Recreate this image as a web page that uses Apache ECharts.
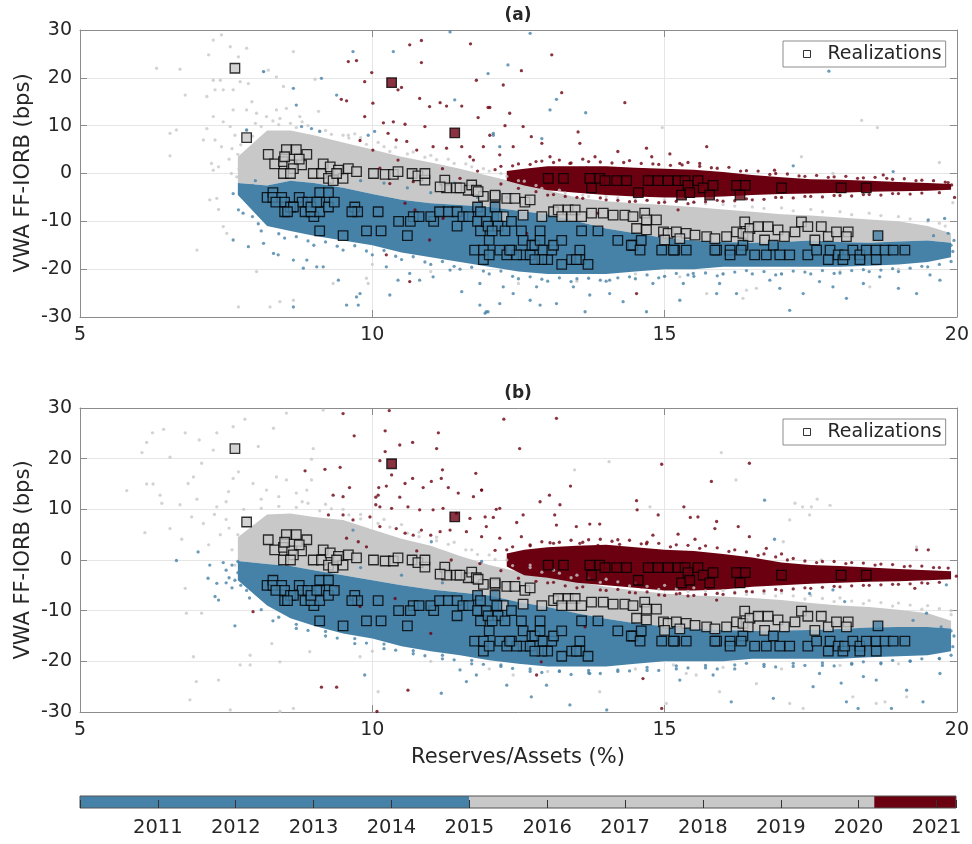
<!DOCTYPE html>
<html><head><meta charset="utf-8">
<script src="https://cdn.jsdelivr.net/npm/echarts@6/dist/echarts.min.js"></script>
<style>html,body{margin:0;padding:0;background:#fff}#c{width:972px;height:844px}</style>
</head><body><div id="c"></div><script>
// ---------- data ----------
var xTicks = [5, 10, 15, 20];
var yTicks = [-30, -20, -10, 0, 10, 20, 30];
var years = [2011, 2012, 2013, 2014, 2015, 2016, 2017, 2018, 2019, 2020, 2021];
var cbStart = [2010, 2015, 2020.2];
var cbEnd = [2015, 2020.2, 2021.25];

// dense-core outlines of the clouds
var bandX = [7.7,8.2,8.6,9,9.5,10,10.5,11,11.5,12,12.5,13,13.5,14,14.5,15,15.5,16,16.5,17,17.5,18,18.5,19,19.5,19.9];
var grayUpA = [3.5,9,9,8,6.5,5,3.5,2.3,1,-0.5,-2,-3.5,-5,-5.8,-6.2,-6.6,-7,-7.5,-8,-8.5,-8.8,-9.2,-9.6,-10,-11,-12.5];
var blueUpA = [-2,-2.5,-1.5,-2,-3,-4.3,-5.5,-6.2,-6.6,-7,-7.8,-8.5,-10,-11.5,-12.5,-13.5,-14,-14.3,-14.5,-14.3,-14,-14.3,-14.5,-14.2,-14,-14.5];
var blueLoA = [-4.5,-11,-12,-13,-14,-15,-16.5,-17.5,-18.5,-19.5,-20.5,-21,-21,-21,-20.5,-20,-20,-19.5,-19.5,-19.5,-19.5,-19.5,-19.3,-19,-18.5,-17.5];
var grayUpB = [4.5,9,9.2,8.5,7.9,6,4.2,2.8,0.8,-1,-2.3,-3.3,-4.3,-5.3,-6,-6.6,-7,-7.2,-7.5,-7.9,-8.5,-9,-9.3,-9.8,-10.5,-12];
var blueUpB = [-0.2,-0.8,-1.2,-2,-3,-4,-5,-5.8,-6.4,-7,-8.3,-9.3,-10.5,-11.6,-12.5,-13.1,-13.5,-13.8,-14,-13.9,-13.8,-13.6,-13.3,-13.2,-13.2,-13.5];
var blueLoB = [-4,-9,-11.5,-13,-14.5,-15.5,-17,-18,-18.8,-19.8,-20.5,-21,-21,-21,-20.5,-20,-20,-20,-19.5,-19.5,-19.5,-19.5,-19.2,-19,-18.8,-18];
var redX = [12.3,12.6,13,13.5,14,14.5,15,15.5,16,16.5,17,17.5,18,18.5,19,19.5,19.9];
var redUpA = [0.5,1,1.5,1.5,1.5,1.2,1,0.8,0.3,-0.3,-0.8,-1.2,-1.3,-1.5,-1.8,-2,-2.2];
var redLoA = [-1.5,-2.5,-3.5,-4,-4.5,-4.8,-5,-5,-4.8,-4.5,-4.3,-4.2,-4,-3.8,-3.7,-3.6,-3.4];
var redUpB = [1.3,2,2.5,2.8,3,2.5,2,1.8,1.2,0.5,-0.5,-1,-1.2,-1.5,-1.8,-2,-2.2];
var redLoB = [-1.3,-3,-3.5,-4.5,-5,-5.5,-6,-6,-5.8,-5.3,-5,-4.7,-4.5,-4.3,-4.2,-4,-3.8];

// realizations (same in both panels)
var sqGray = [[7.65,22],[7.85,7.5],[8.22,4],[8.53,5],[8.7,5],[8.88,4],[8.33,2],[8.48,2.5],[8.62,1.8],[8.79,1.8],[8.48,0],[8.65,1],[8.99,0],[9.13,0],[9.16,2],[9.28,1.4],[9.42,0.7],[9.59,1],[9.73,0.4],[9.25,-1],[9.33,-1.5],[9.5,-1],[9.39,0],[10.02,0],[10.22,-0.2],[10.36,-0.2],[10.44,0.4],[10.68,0],[10.78,-0.5],[8.5,3.5],[8.75,3],[8.6,0],
[10.9,-1.4],[10.9,0],[11.24,-1.4],[11.27,-3],[11.44,-3],[11.64,-3.5],[11.7,-2.4],[11.78,-3.5],[11.9,-4.8],[12.1,-4.8],[12.3,-5.2],[12.44,-5.2],[12.61,-6],[12.7,-5.5],[12.58,-8.7],[12.24,-9],[12.9,-9],[13.1,-8],[13.18,-7.6],[13.35,-7.6],[13.47,-7.6],[13.24,-9],[13.41,-9],[13.58,-9],[11.16,-2.8],[11.5,-3],[11.81,-3.8],[12.1,-4.5],
[13.75,-8.3],[13.95,-8.3],[14.12,-8.7],[14.32,-8.7],[14.46,-9],[14.66,-8.3],[14.69,-9.7],[14.86,-9.7],[14.52,-11.5],[14.69,-11.8],[14.98,-12.2],[15.06,-12.5],[15.2,-12.2],[15.37,-12.5],[15.52,-12.9],[15.72,-13.2],[15.86,-13.6],[16.06,-13.2],[16.23,-12.2],[16.37,-10.1],[16.34,-12.5],[15,-13.9],[15.26,-13.6],
[16.46,-11.5],[16.43,-13.2],[16.6,-11.1],[16.71,-13.9],[16.77,-11.1],[16.94,-11.8],[17.05,-13.2],[17.23,-12.2],[17.34,-10.1],[17.45,-11.1],[17.57,-13.9],[17.68,-11.1],[17.8,-13.2],[17.94,-12.2],[18.14,-12.2],[18.11,-13.2]];
var sqBlue = [[8.2,-5],[8.3,-4],[8.3,-5],[8.45,-5],[8.35,-6],[8.5,-6],[8.5,-8],[8.6,-7],[8.75,-5],[8.8,-6],[8.9,-6],[8.85,-8],[9,-9],[8.95,-8],[9.1,-4],[9.25,-4],[9.1,-6],[9.1,-8],[9.25,-7],[9.35,-6],[9.1,-12],[9.5,-13],[9.7,-7],[9.75,-8],[9.65,-8],[9.9,-12],[10.1,-8],[10.15,-12],[10.45,-10],[10.6,-13],[10.7,-9],[10.65,-10],[8.65,-7],[8.95,-7],[9.05,-6],[8.55,-8],
[10.8,-9],[11.05,-10],[11,-9],[11.15,-8],[11.3,-8],[11.45,-8],[11.45,-11],[11.55,-9],[11.65,-9],[11.8,-7],[11.85,-8],[11.8,-10],[11.85,-12],[11.95,-10],[11.98,-11],[12,-14],[12.1,-7],[12.13,-9],[12.15,-11],[12.05,-12],[12.27,-12],[12.38,-10],[11.75,-16],[11.9,-16],[11.9,-18],[12,-17],[12.18,-16],[12.3,-17],[12.38,-16],[12.55,-12],[12.58,-14],[12.58,-17],[12.7,-17],[12.73,-15],[12.78,-15],[12.87,-12],[12.87,-14],[12.92,-16],[13,-18],[13.07,-16],[13.1,-15],[12.9,-18],[12.78,-18],[13.24,-14],[13.24,-19],[13.41,-18],[13.55,-16],[13.55,-18],[13.49,-18],[13.69,-19],[13.58,-12],[13.86,-12],[12.47,-17],[12.35,-16],
[14.2,-14],[14.46,-15],[14.6,-14],[14.95,-16],[15.17,-16],[15.37,-16],[15.89,-16],[16.12,-16],[16.12,-17],[16.34,-15],[16.31,-16],[16.54,-17],[16.74,-17],[16.86,-15],[16.97,-17],[17.14,-17],[17.45,-17],[17.6,-16],[17.8,-18],[17.83,-16],[17.97,-17],[18.05,-18],[18.08,-17],[18.22,-16],[18.34,-17],[18.34,-18],[18.45,-16],[18.62,-16],[18.62,-18],[18.65,-13],[18.77,-16],[18.91,-16],[19.11,-16],[14.43,-15],[14.58,-16],[15.15,-16],[15.86,-16]];
var sqRed = [[10.33,19],[11.41,8.5],[13.01,-1],[13.27,-1],[13.72,-1],[13.75,-3],[13.89,-1],[13.98,-1.5],[14.18,-1.5],[14.35,-1.5],[14.55,-4],[14.72,-1.5],[14.89,-1.5],[15.06,-1.5],[15.23,-1.5],[15.35,-1.5],[15.4,-2.5],[15.29,-4.5],[15.43,-4],[15.57,-1.5],[15.66,-3],[15.83,-2.5],[15.77,-4.5],[16.23,-2.5],[16.38,-2.5],[16.29,-4.5],[17,-3],[18.02,-3],[18.45,-3]];

// scattered points outside the dense cores
var grayDotsA = [[6.31,22],[6.71,21.8],[6.8,16.4],[6.54,8.4],[6.65,9.1],[6.54,3.7],[7,-16],[7.2,24.8],[7.28,27.9],[7.42,29],[7.57,26.5],[7.71,24.4],[7.85,26.2],[7.17,16.1],[7.28,19.5],[7.4,19.5],[7.31,17.5],[7.45,17.5],[7.62,17.5],[7.74,19.2],[7.88,18.8],[8.14,21.3],[8.22,21.6],[8.36,20.2],[8.65,25.5],[8.48,18.2],[7.94,15],[7.62,13.3],[7.85,13.3],[8.02,12.6],[8.19,11.9],[8.36,13.3],[8.53,13.6],[8.42,11.5],[7.28,11.9],[7.45,10.8],[7.57,9.8],[7.17,9.4],[7.11,7],[7.31,7],[7.42,5.6],[7.25,2.1],[7.37,1.4],[7.28,0.7],[7.59,0],[7.68,-0.7],[7.22,-5.5],[7.34,-5.2],[7.37,-7.5],[7.45,-11.1],[7.51,-12.5],[7.71,-27.9],[8.25,-27.9],[8.42,-26.8],[8.02,-20.5],[8.65,-26.5],[8.76,11.9],[9.08,13],[9.59,8],[9.33,-23],[9.9,-21.9],[9.93,-23],[9.02,19.7],
[7.7,4],[7.75,6],[7.8,2],[7.65,8],[7.85,9],[7.9,-1],[7.72,1],[7.95,7.8],[7.98,5.5],[7.6,5.2],[7.55,3],[14.96,9.6],[18.37,11.1],[18.64,9.6],[17.34,3.5],[19.7,2.3],[17.88,0],[19.93,-6.1],[16.4,-24.4],[16.57,-24],[16.34,-26.1],[18.51,-23.7],[15.26,-21.6],[15.72,-25.1],
[8,10.5],[8.3,11],[8.6,10.5],[8.9,10],[9.2,9],[9.5,8],[9.8,7.5],[10.1,6.5],[10.4,5.5],[10.7,4.5],[11,3.8],[11.3,3],[11.6,2],[11.9,1],[12.2,0],[12.5,-1.5],[12.8,-2.5],[13.2,-3.5],[13.6,-4.5],[14,-4.8],[14.5,-5.2],[15,-5.5],[15.5,-6],[16,-6.5],[16.5,-7],[17,-7.2],[17.5,-7.5],[18,-8],[18.5,-8.3],[19,-9],[19.5,-10],[19.8,-11],
[14.5,-21],[15,-21.5],[16,-21],[17,-21],[18,-20.5],[19,-20],[13.5,-22.5],[12.5,-23],[11,-20.5],[10,-19]];
var edgeGrayA = [[8.1,9.8],[8.4,10.2],[8.7,9.6],[8.8,10.8],[9.1,8.9],[9.3,8.2],[9.6,7.4],[9.7,8.3],[9.9,6.1],[10.2,5.6],[10.3,4.6],[10.6,4.1],[10.9,3.4],[11.1,2.9],[11.4,2.1],[11.7,1.4],[12,0.5],[12.3,-0.6],[12.6,-1.6],[12.9,-3.1],[13.3,-4.1],[13.7,-4.8],[14.2,-5.1],[14.7,-5.6],[15.2,-5.8],[15.7,-6.3],[16.2,-6.8],[16.7,-7.3],[17.2,-7.8],[17.7,-8],[18.2,-8.6],[18.7,-8.8],[19.2,-9.5],[19.7,-10.4]];
var blueDotsA = [[9.67,25.5],[10.36,25.5],[9.13,19.9],[8.65,17.8],[8.7,14.3],[9.39,16.4],[8.14,21.3],[7.85,9.1],[8.79,9.8],[8.96,9.4],[9.1,8.8],[9.93,8],[10.04,8.8],[7.62,-4.2],[7.71,-7.6],[7.79,-8.3],[7.62,-13.9],[7.88,-15.3],[8.14,-14.6],[8.31,-16.7],[8.39,-17],[8.65,-18.1],[8.82,-19.8],[8.88,-18.1],[9.05,-19.5],[9.16,-19.5],[9.42,-22.3],[9.56,-27.5],[9.73,-25.8],[9.79,-25.1],[9.76,-27.5],[10.3,-25.4],[8.65,-27.9],[10.24,-19.5],[10.44,-22.3],[10.64,-20.9],[10.81,-22.3],[11.04,-21.6],[11.33,-20.2],[11.53,-24.7],[11.84,-23],[11.93,-29.2],[11.98,-28.9],[11.84,-27.5],[11.33,29.6],[11.98,20.9],[11.41,15.4],[12.07,8],
[12.7,29.3],[12.32,22.7],[13.15,15.5],[13.04,13.3],[13.65,12.7],[12.9,7.3],[12.07,8.4],[12.18,5.6],[17.81,21.4],[17.2,1.6],[18.91,0.4],[19.51,-9.7],[19.79,-9.4],[19.85,-12.5],[19.71,-17.4],[19.93,-16.3],[19.54,-21.2],[19.71,-22.3],[19.31,-25.1],[19,-24],[18.11,-26.1],[17.88,-23.7],[17.65,-22.6],[17.37,-25.1],[17.14,-28.6],[16.8,-22.3],[16.23,-25.1],[15.94,-23],[15.49,-20.9],[15.32,-23],[15.26,-26.5],[14.69,-28.9],[14.29,-26.8],[14.06,-25.1],[13.72,-25.4],[13.64,-28.9],[13.15,-27.2],[12.87,-27.5],[12.7,-26.5],[12.41,-25.1],[12.18,-27.2],[11.95,-28.9],[12.24,-23.7],[12.81,-23.7],[13.44,-23.7],[14.06,-22.3],[14.8,-23],[15.89,-25.1],[16.97,-24],[18.4,-23],[18.68,-21.6],
[8.5,-13.5],[9,-15],[9.5,-16],[10,-17],[10.5,-18],[11,-19],[11.5,-20],[12,-21],[12.5,-22],[13,-22.5],[13.5,-22],[14,-22.5],[14.5,-22],[15,-21.5],[15.5,-21.5],[16,-21],[16.5,-21],[17,-21],[17.5,-21],[18,-20.8],[18.5,-20.5],[19,-20.5],[19.5,-19.5],
[10.2,-2],[10.6,-3],[11,-4],[11.4,-2],[11.8,-5],[12.3,-5],[9.4,0],[9.8,-1.5],[8,-1.5],[7.95,-2.5],[7.9,-6],[7.95,-9],[8.05,-10.5],[7.8,-5],[19.95,-14],[19.9,-15],[19.6,-13]];
var edgeBlueA = [[8.1,-12],[8.4,-12.6],[8.7,-13.2],[8.9,-14.1],[9.2,-14.3],[9.4,-15.2],[9.7,-15.1],[9.9,-16.2],[10.2,-16.1],[10.4,-17.3],[10.7,-17.4],[10.9,-18.5],[11.2,-18.4],[11.4,-19.4],[11.7,-19.6],[11.9,-20.4],[12.2,-20.4],[12.4,-21.5],[12.7,-21.6],[12.9,-22.1],[13.2,-21.8],[13.4,-22.6],[13.7,-21.9],[13.9,-22.3],[14.2,-21.8],[14.4,-21.6],[14.7,-21.2],[14.9,-21.8],[15.2,-20.9],[15.4,-21.2],[15.7,-20.8],[15.9,-21.4],[16.2,-20.6],[16.4,-20.3],[16.7,-20.5],[16.9,-21.2],[17.2,-20.4],[17.4,-20.6],[17.7,-20.3],[17.9,-20.9],[18.2,-20.3],[18.4,-20.1],[18.7,-20.2],[18.9,-19.9],[19.2,-19.8],[19.4,-19.4],[19.7,-19],[19.9,-18.4]];
var redDotsA = [[9.59,23.4],[9.73,23.6],[9.99,21.1],[9.87,19.2],[10.5,18],[10.44,17.5],[9.47,15.5],[9.56,15.2],[10.01,14.7],[9.87,11.9],[10.19,10.6],[10.36,10.8],[10.56,10.3],[9.79,6.9],[10.01,4.9],[10.27,8.4],[10.41,7],[10.59,6.7],[10.64,26.9],[10.84,27.8],[10.84,23.2],[10.81,15.7],[10.98,14],[11.16,14.8],[11.27,14.1],[11.53,14.1],[11.68,27.1],[11.78,19.5],[11.98,13.8],[11.81,11.7],[12.01,8],[10.9,9.8],[11.04,5.6],[11.27,5.3],[11.53,5.6],[11.67,3.5],[11.73,2.8],[11.9,5.6],[10.7,-1.7],[10.3,-2.1],[10.56,-6.2],[10.73,-7.6],[11.21,-9.4],[10.98,-13.9],[10.24,-17],[10.64,-22.6],[10.13,1.1],[10.44,2.8],[10.76,4.9],
[13.07,24.8],[12.55,21.5],[12.24,18.5],[13.24,16.9],[12.01,13.8],[12.35,12.6],[14.32,14.8],[12.27,10],[12.58,9.8],[12.72,7.7],[13.52,8.7],[13.55,6.3],[12.9,6.3],[12.18,3.9],[12.41,5.6],[13.04,3.5],[13.38,2.1],[13.81,3.5],[14.2,4.6],[14.69,5.3],[14.78,3.5],[15.09,4.1],[15.26,2.1],[15.72,5.6],[15.6,2.1],[16.88,0.7],[18.74,-0.3],[19.91,-2.4],[19.96,-5],[15.23,-7.6],[14.52,-25.1],[13.86,-8.3],[12.24,-16],[12.64,-12.5],[13.66,1.1],[14.12,0.7],
[12.2,1.5],[12.5,2],[12.8,2.5],[13.2,2.8],[13.7,2.5],[14.3,2.3],[14.8,2],[15.3,1.8],[15.8,1.2],[16.3,0.5],[16.8,-0.2],[17.3,-0.5],[17.8,-0.8],[18.3,-1],[18.8,-1],[19.3,-1.5],[19.8,-1.8],[13,-4.5],[13.5,-5],[14,-5.5],[14.5,-5.8],[15,-6],[15.5,-6],[16,-5.8],[16.5,-5.5],[17,-5],[17.5,-4.8],[18,-4.6],[18.5,-4.4],[19,-4.2],[11.5,-1],[11.8,0.5],[11.2,1]];
var edgeRedA = [[12.1,0.8],[12.4,1.6],[12.7,1.9],[12.9,2.6],[13.1,2.3],[13.4,2.2],[13.6,3],[13.9,2.4],[14.1,2.2],[14.4,2.7],[14.6,2.1],[14.9,1.9],[15.1,1.7],[15.4,2.3],[15.6,1.5],[15.9,1.1],[16.1,1.3],[16.4,0.6],[16.6,0.5],[16.9,0],[17.1,-0.1],[17.4,-0.6],[17.6,-0.4],[17.9,-0.7],[18.1,-0.6],[18.4,-0.9],[18.6,-0.8],[18.9,-1.2],[19.1,-1.1],[19.4,-1.4],[19.6,-1.5],[19.85,-1.9],
[12.2,-2.2],[12.5,-3.1],[12.8,-3.8],[13.1,-4.4],[13.3,-4.8],[13.6,-5.2],[13.9,-5.1],[14.2,-5.6],[14.4,-5.9],[14.7,-5.6],[14.9,-6.1],[15.2,-5.8],[15.4,-6.3],[15.7,-5.9],[15.9,-5.6],[16.2,-5.7],[16.4,-5.3],[16.7,-5.4],[16.9,-5],[17.2,-5.1],[17.4,-4.8],[17.7,-4.9],[17.9,-4.6],[18.2,-4.7],[18.4,-4.4],[18.7,-4.5],[18.9,-4.2],[19.2,-4.3],[19.4,-4.1],[19.7,-4]];
var grayDotsB = [[5.8,13.7],[6.06,21.2],[6.14,23.2],[6.24,25.1],[6.43,25.8],[6.54,20.3],[6.14,15],[6.25,15],[6.4,11.2],[6.54,6.2],[6.11,5.4],[6.37,12.8],[6.71,10.9],[6.74,4.1],[6.8,25.1],[7.04,23.7],[7.28,21.7],[6.94,16.4],[6.85,15.1],[7.08,19.1],[7.34,25.1],[7.62,26.3],[7.82,27.8],[8.05,22.4],[8.31,26],[8.53,29],[9.16,29.6],[6.91,8.5],[7.11,7.2],[7.34,10.5],[7.54,13.5],[7.62,16.1],[7.71,17.4],[7.96,15.1],[8.19,13.8],[8.36,16.4],[8.53,15.8],[8.7,13.2],[8.88,13.8],[8.96,15.8],[8.99,22],[8.96,19.9],[6.8,-5.6],[6.82,-10.5],[7.08,-10.5],[6.99,-24],[6.88,-27.6],[7.37,-23.7],[7.57,-29.6],[7.74,-20.7],[7.91,-20.7],[7.91,-18.8],[8.28,-16.5],[8.42,-20.1],[8.65,-29.3],[8.42,-29.9],[8.93,-18.1],[9.79,-19.1],[10.1,-26],[6.94,-19.1],
[7.2,3],[7.4,5],[7.5,8],[7.6,2],[7.7,5],[7.8,10],[7.5,11.5],[7.3,9],[7,12],[7.8,0.5],[7.65,-1],[7.9,8.2],[7.95,6.5],[7.55,6.3],[8.1,12],[8.4,12.5],[8.8,11.5],[9.2,11],[9.5,10],[9.8,9],[10.2,8],[10.5,7],[10.8,5.5],[11.1,4.5],[11.4,3.5],[11.7,2],[12,1],[12.3,0],[12.7,-1],[13.1,-2],[13.5,-3],[14,-3.8],[14.5,-4.5],[15,-5],[15.5,-5.5],[16,-6],[16.5,-6.2],[17,-6.5],[17.5,-7],[18,-7.5],[18.5,-8],[19,-8.5],[19.5,-9],[19.9,-10],
[14.05,19.4],[13.46,17.8],[15.97,21.2],[16.22,15.8],[14.75,10.5],[17.23,11.2],[17.36,10.5],[17.51,10.5],[17.61,12],[17.83,10.8],[17.48,8.9],[17.14,7.9],[17.03,3.6],[17.68,0],[19.31,2.6],
[15.15,-20.7],[15.37,-22.4],[15.54,-22.7],[15.94,-26],[16.57,-24.4],[17.14,-28.3],[17.37,-29.3],[18.22,-27],[18.62,-28.3],[19.14,-27],[18.77,-28],[12.41,-22.7],[13.89,-26],[15.03,-28.3],
[14.5,-21.5],[16,-21.2],[17,-21.5],[18,-20.8],[19,-20.5],[13,-22],[12,-21.5],[11,-20],[10,-18]];
var edgeGrayB = [[8.1,10.2],[8.4,10.6],[8.7,10.4],[8.9,11.2],[9.1,9.7],[9.3,10.1],[9.6,8.9],[9.8,8.1],[10.1,7.2],[10.3,6.5],[10.6,5.3],[10.8,4.6],[11.1,3.8],[11.3,3.1],[11.6,2],[11.8,1.1],[12.1,0.1],[12.4,-1.1],[12.7,-1.5],[12.9,-2.4],[13.2,-2.6],[13.4,-3.5],[13.7,-3.6],[13.9,-4.4],[14.2,-4.3],[14.4,-5.1],[14.7,-5.2],[14.9,-5.8],[15.2,-5.7],[15.4,-6.2],[15.7,-6.1],[15.9,-6.5],[16.2,-6.3],[16.4,-6.8],[16.7,-6.6],[16.9,-7.1],[17.2,-7.1],[17.4,-7.7],[17.7,-7.6],[17.9,-8.2],[18.2,-8.1],[18.4,-8.6],[18.7,-8.4],[18.9,-9.1],[19.2,-8.9],[19.4,-9.7],[19.7,-9.6],[19.9,-10.8]];
var blueDotsB = [[6.65,-0.1],[7.02,1.6],[7.22,-1],[7.19,-3.6],[7.34,-4.6],[7.31,-7.2],[7.37,-7.9],[7.65,-13],[9.87,-22.7],[11.18,-26.3],[11.78,-22.7],[11.61,-24],[11.5,-21.7],[9.67,5.9],[11.01,3.6],[11.87,-0.3],
[7.45,-0.5],[7.5,-2],[7.55,-3.5],[7.6,-1],[7.65,-4],[7.7,-2.5],[7.75,-5],[7.8,-1.5],[7.85,-3.5],[7.85,-6],[7.6,-5.5],[7.7,-0.3],[7.9,-7.5],[7.5,-4.5],
[8.3,-12],[8.7,-13.5],[9.2,-15],[9.7,-16.5],[10.2,-17.5],[10.7,-18.5],[11.2,-19.5],[11.7,-20.5],[12.2,-21],[12.7,-22],[13.2,-22],[13.7,-22.3],[14.2,-22],[14.7,-21.8],[15.2,-21.5],[15.7,-21.3],[16.2,-21.5],[16.7,-21],[17.2,-21],[17.7,-20.8],[18.2,-20.6],[18.7,-20.5],[19.2,-20],[19.7,-19.5],
[16.71,11.8],[16.88,4.1],[17.48,-6.6],[17.88,-5.9],[18.08,-8.2],[19.25,-11.9],[19.48,-10.5],[19.73,-13.2],[19.82,-4.9],[19.93,-17.1],[19.71,-22.4],[19.42,-28],[18.88,-29.3],[18.31,-29.3],[18.11,-28],[18.02,-24.3],[17.54,-25],[16.86,-27.3],[16.14,-28],[15.83,-22.7],[15.26,-23.7],[14.01,-29.6],[13.38,-28.6],[12.72,-27],[12.3,-24.7],[12.98,-24.7],[13.72,-22.4],[18.62,-23.7],[19.14,-25.7],[17.65,-22.4],[18.4,-23],
[19.95,-15],[19.9,-14],[10.5,-3],[11.2,-4.5],[9.8,-1.5]];
var edgeBlueB = [[8.1,-9.8],[8.4,-11.3],[8.7,-12.7],[8.9,-13.9],[9.2,-14.1],[9.4,-15.4],[9.7,-15.5],[9.9,-16.4],[10.2,-16.6],[10.4,-17.8],[10.7,-17.9],[10.9,-18.9],[11.2,-18.8],[11.4,-19.7],[11.7,-19.8],[11.9,-20.6],[12.2,-20.7],[12.4,-21.4],[12.7,-21.5],[12.9,-22.2],[13.2,-21.9],[13.4,-22.6],[13.7,-21.8],[13.9,-22.4],[14.2,-21.7],[14.4,-21.9],[14.7,-21.2],[14.9,-21.8],[15.2,-20.9],[15.4,-21.3],[15.7,-20.8],[15.9,-21.5],[16.2,-20.7],[16.4,-20.4],[16.7,-20.6],[16.9,-21.1],[17.2,-20.4],[17.4,-20.8],[17.7,-20.3],[17.9,-20.9],[18.2,-20.4],[18.4,-20.1],[18.7,-20.3],[18.9,-19.8],[19.2,-19.9],[19.4,-19.5],[19.7,-19.4],[19.9,-18.8]];
var redDotsB = [[9.5,28.9],[10.29,29.5],[10.22,25.5],[9.69,24.5],[11.13,25.1],[11.1,22],[10.69,23.2],[10.47,22.7],[10.22,21.4],[10.13,19.6],[10.33,16.8],[9.19,17.9],[8.85,17.6],[9.45,18.3],[11.2,17.8],[11.18,16.1],[11.77,17.1],[11.01,15.5],[10.69,16.1],[10.56,15.1],[10.11,14.3],[10.24,14.6],[9.61,14.3],[9.33,12.8],[9.5,12.5],[10.1,12.8],[10.06,12.4],[10.47,12.4],[10.87,14.3],[11.3,14.3],[11.47,13.2],[11.73,12.5],[11.87,13.8],[10.06,10.9],[10.13,10.5],[10.33,10.2],[10.61,10.5],[10.81,9.9],[11.04,9.9],[11.21,10.2],[11.44,9.2],[11.67,8.2],[11.93,8.5],[12.12,10],[9.25,8.9],[9.5,8.9],[9.67,7.9],[9.96,8.5],[10.13,6.6],[10.41,6.2],[10.56,5.3],[10.7,4.9],[10.84,5.9],[11,4.9],[11.16,5.6],[11.33,5.9],[11.61,5.6],[11.87,4.6],[12.18,4.3],[9.56,4.3],[9.76,3.6],[9.9,2.6],[10.76,1.8],[11.35,0],[11.84,-0.7],[7.96,-10.2],[9.39,-5.3],[9.79,-9.2],[10.39,-7.6],[11,-14.5],[9.13,-25.1],[9.39,-25.1],[10.61,-25.7],[10.08,-29.9],
[12.25,27.8],[13.15,27.96],[12.52,22],[14.95,18.9],[16.45,19.1],[15.8,15.5],[13.39,14.6],[11.87,13.8],[12.87,11.5],[13.03,12.8],[13.21,10.9],[14.52,11.7],[14.53,9.9],[15.33,10.5],[12.18,10.2],[12.58,8.9],[13.12,8.9],[14.89,8.9],[15.44,8.4],[15.57,8.5],[15.89,7.6],[16.26,6.6],[12.47,7.4],[13.15,6.9],[13.49,6.6],[13.72,7.1],[13.89,7.1],[15.86,6.2],[16.45,4.6],[12.07,8.4],[11.95,6.6],[12.55,4.6],[13.04,3.4],[13.55,3.3],[13.86,2.9],[14.23,3.1],[14.69,3.2],[14.8,4.9],[15.23,5.1],[15.52,4.1],[16.74,2.3],[17,1.2],[19.31,2],[19.51,2],[14.6,-5.3],[15.26,-6.6],[15.89,-7.9],[13.64,-13.2],[12.89,-20.1],[12.81,-22.7],[14.63,-23.4],[14.95,-29.3],[19.28,-5.6],[19.99,-3.2],
[12.3,2],[12.7,3],[13.2,3.5],[13.7,4],[14.2,4],[14.7,3.5],[15.2,3],[15.7,2.8],[16.2,2],[16.7,1.2],[17.2,0.3],[17.7,-0.3],[18.2,-0.5],[18.7,-0.8],[19.2,-1.2],[19.7,-1.5],[13,-4.5],[13.5,-5.5],[14,-6],[14.5,-6.5],[15,-7],[15.5,-7],[16,-6.8],[16.5,-6.3],[17,-6],[17.5,-5.6],[18,-5.3],[18.5,-5],[19,-4.8],[19.5,-4.6]];
var edgeRedB = [[12.1,1.9],[12.4,2.6],[12.7,2.8],[12.9,3.6],[13.1,3.3],[13.4,3.9],[13.6,3.5],[13.9,4.1],[14.1,3.7],[14.4,3.9],[14.6,3.2],[14.9,3.3],[15.1,2.6],[15.4,2.9],[15.6,2.3],[15.9,2.4],[16.1,1.7],[16.4,1.6],[16.6,0.9],[16.9,0.6],[17.1,0],[17.4,-0.2],[17.6,-0.5],[17.9,-0.3],[18.1,-0.7],[18.4,-0.6],[18.6,-1],[18.9,-0.9],[19.1,-1.3],[19.4,-1.2],[19.6,-1.5],[19.85,-1.6],
[12.2,-2.1],[12.5,-3.6],[12.8,-4.2],[13.1,-4.4],[13.3,-5.1],[13.6,-5.3],[13.9,-5.9],[14.2,-5.8],[14.4,-6.4],[14.7,-6.3],[14.9,-6.9],[15.2,-6.7],[15.4,-7.1],[15.7,-6.8],[15.9,-6.6],[16.2,-6.5],[16.4,-6.2],[16.7,-6.1],[16.9,-5.8],[17.2,-5.7],[17.4,-5.5],[17.7,-5.4],[17.9,-5.2],[18.2,-5.1],[18.4,-5],[18.7,-4.9],[18.9,-4.8],[19.2,-4.7],[19.4,-4.5],[19.7,-4.4]];

// ---------- chart ----------
var C = {blue:'#4682a8', gray:'#c8c8c8', red:'#6b0010'};
var cbColor = [C.blue, C.gray, C.red];
var FONT = 'DejaVu Sans', TXT = '#262626', AX = '#8c8c8c';
var grids = [{left:80, top:30, width:877, height:287}, {left:80, top:408, width:877, height:304}, {left:80, top:796, width:876, height:12}];

function band(p, xs, up, lo, color, z){
  return {type:'custom', xAxisIndex:p, yAxisIndex:p, z:z, silent:true, data:[[xs[0], up[0]]],
    renderItem:function(params, api){
      var pts=[];
      for (var i=0;i<xs.length;i++) pts.push(api.coord([xs[i], up[i]]));
      for (var j=xs.length-1;j>=0;j--) pts.push(api.coord([xs[j], lo[j]]));
      return {type:'polygon', shape:{points:pts}, style:{fill:color}};
    }};
}
function dots(p, data, color, z){
  return {type:'scatter', xAxisIndex:p, yAxisIndex:p, data:data, symbolSize:3.3, silent:true, z:z, itemStyle:{color:color}};
}
function squares(p){
  var d=[];
  sqGray.forEach(function(v){d.push({value:v, itemStyle:{color:C.gray}});});
  sqBlue.forEach(function(v){d.push({value:v, itemStyle:{color:C.blue}});});
  sqRed.forEach(function(v){d.push({value:v, itemStyle:{color:C.red}});});
  return {type:'scatter', name:'Realizations', xAxisIndex:p, yAxisIndex:p, symbol:'rect', symbolSize:9.5, z:10, data:d,
    itemStyle:{borderColor:'#000', borderWidth:1.3}};
}
function mainX(p){ return {type:'value', gridIndex:p, min:xTicks[0], max:xTicks[xTicks.length-1], interval:5,
  axisLine:{show:true, onZero:false, lineStyle:{color:AX}}, axisTick:{show:true, inside:true, length:7, lineStyle:{color:AX}},
  axisLabel:{fontFamily:FONT, fontSize:19, color:TXT, margin:9}, splitLine:{show:true, lineStyle:{color:'#e6e6e6'}}}; }
function mirX(p){ return {type:'value', gridIndex:p, position:'top', min:5, max:20, interval:5,
  axisLine:{show:true, onZero:false, lineStyle:{color:AX}}, axisTick:{show:true, inside:true, length:7, lineStyle:{color:AX}},
  axisLabel:{show:false}, splitLine:{show:false}}; }
function mainY(p){ return {type:'value', gridIndex:p, min:yTicks[0], max:yTicks[yTicks.length-1], interval:10,
  axisLine:{show:true, onZero:false, lineStyle:{color:AX}}, axisTick:{show:true, inside:true, length:7, lineStyle:{color:AX}},
  axisLabel:{fontFamily:FONT, fontSize:19, color:TXT, margin:8}, splitLine:{show:true, lineStyle:{color:'#e6e6e6'}}}; }
function mirY(p){ return {type:'value', gridIndex:p, position:'right', min:-30, max:30, interval:10,
  axisLine:{show:true, onZero:false, lineStyle:{color:AX}}, axisTick:{show:true, inside:true, length:7, lineStyle:{color:AX}},
  axisLabel:{show:false}, splitLine:{show:false}}; }

var series = [];
[0,1].forEach(function(p){
  var gu = p ? grayUpB : grayUpA, bu = p ? blueUpB : blueUpA, bl = p ? blueLoB : blueLoA;
  var ru = p ? redUpB : redUpA, rl = p ? redLoB : redLoA;
  series.push(band(p, bandX, gu, bu, C.gray, 1));
  series.push(band(p, bandX, bu, bl, C.blue, 2));
  series.push(band(p, redX, ru, rl, C.red, 3));
  series.push(dots(p, (p ? grayDotsB : grayDotsA).concat(p ? edgeGrayB : edgeGrayA), C.gray, 4));
  series.push(dots(p, (p ? blueDotsB : blueDotsA).concat(p ? edgeBlueB : edgeBlueA), C.blue, 5));
  series.push(dots(p, (p ? redDotsB : redDotsA).concat(p ? edgeRedB : edgeRedA), C.red, 6));
  series.push(squares(p));
});
series.push({type:'custom', xAxisIndex:4, yAxisIndex:4, silent:true, z:2,
  data: cbStart.map(function(s,i){ return [s, cbEnd[i], i]; }),
  renderItem:function(params, api){
    var i = params.dataIndex;
    var a = api.coord([cbStart[i], 1]), b = api.coord([cbEnd[i], 0]);
    var ch = [{type:'rect', shape:{x:a[0], y:a[1], width:b[0]-a[0], height:b[1]-a[1]}, style:{fill:cbColor[i]}}];
    if (i === cbStart.length-1){
      var s = api.coord([cbStart[0], 1]);
      ch.push({type:'rect', z2:5, shape:{x:s[0], y:s[1], width:b[0]-s[0], height:b[1]-s[1]}, style:{fill:'none', stroke:'#555', lineWidth:1}});
    }
    return {type:'group', children:ch};
  }});

var legends = [41, 419].map(function(t){
  return {left:783, top:t, orient:'horizontal', selectedMode:false,
    data:[{name:'Realizations', icon:'rect', itemStyle:{color:'#fff', borderColor:'#000', borderWidth:1}}],
    itemWidth:7, itemHeight:7, backgroundColor:'#fff', borderColor:'#8c8c8c', borderWidth:1, borderRadius:0,
    padding:[3,4,3,20], textStyle:{fontFamily:FONT, fontSize:19, color:TXT, lineHeight:20, padding:[0,0,0,12]}};
});

function txt(x, y, s, size, bold, rot){
  return {type:'text', x:x, y:y, rotation:rot||0, silent:true,
    style:{text:s, fontFamily:FONT, fontSize:size, fontWeight:bold?'bold':'normal', fill:TXT, align:'center', verticalAlign:'middle'}};
}

var chart = echarts.init(document.getElementById('c'), null, {renderer:'canvas'});
chart.setOption({
  animation:false, backgroundColor:'#fff',
  grid: grids,
  xAxis: [mainX(0), mainX(1), mirX(0), mirX(1),
    {type:'value', gridIndex:2, min:cbStart[0], max:cbEnd[cbEnd.length-1], interval:1, z:10,
     axisLine:{show:false}, axisTick:{show:true, inside:true, length:8, lineStyle:{color:'#333'}},
     axisLabel:{fontFamily:FONT, fontSize:19.5, color:TXT, margin:10,
       formatter:function(v){ return years.indexOf(Math.round(v)) >= 0 && Math.abs(v-Math.round(v))<1e-6 ? String(Math.round(v)) : ''; }},
     splitLine:{show:false}}],
  yAxis: [mainY(0), mainY(1), mirY(0), mirY(1),
    {type:'value', gridIndex:2, min:0, max:1, show:false}],
  legend: legends,
  graphic: [
    txt(518, 16, '(a)', 17, true),
    txt(518, 394, '(b)', 17, true),
    txt(24, 173, 'VWA FF-IORB (bps)', 21, false, Math.PI/2),
    txt(24, 560, 'VWA FF-IORB (bps)', 21, false, Math.PI/2),
    txt(518, 758, 'Reserves/Assets (%)', 21, false)
  ],
  series: series
});
</script></body></html>
